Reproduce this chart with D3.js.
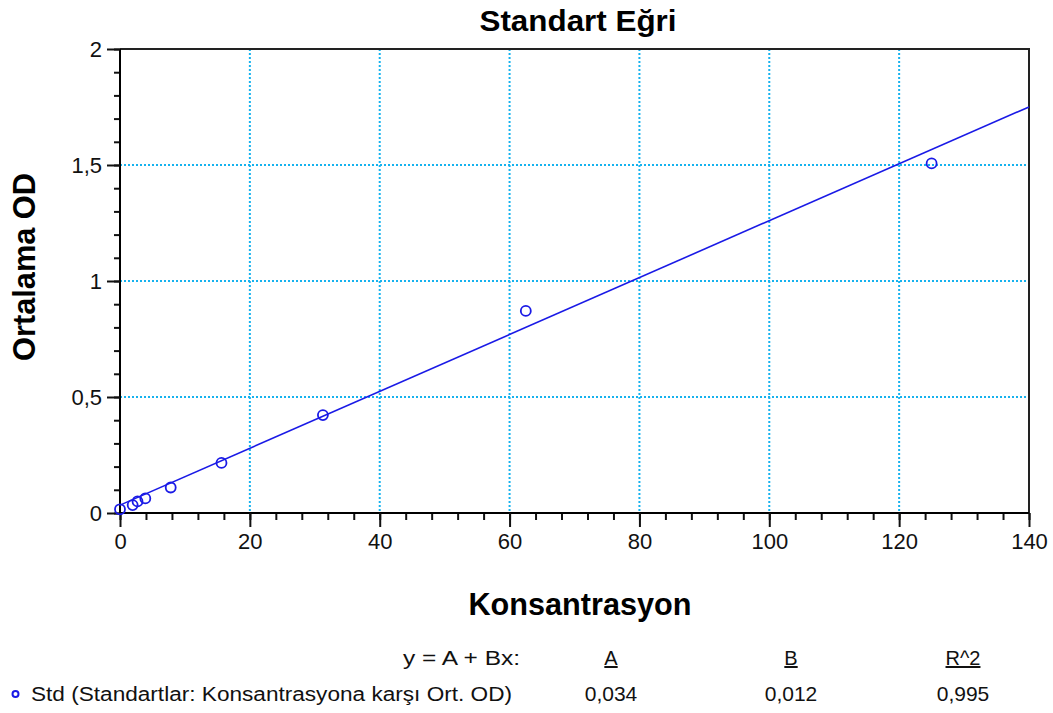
<!DOCTYPE html>
<html><head><meta charset="utf-8">
<script src="https://cdn.jsdelivr.net/npm/d3@7/dist/d3.min.js"></script>
<style>body{margin:0;background:#fff}svg{display:block;font-family:"Liberation Sans",Arial,sans-serif}</style>
</head><body>
<svg id="c" width="1053" height="713"></svg>
<script>
const concentrations = [0, 1.95, 2.7, 3.9, 7.81, 15.63, 31.25, 62.5, 125];
const meanOD = [0.016, 0.034, 0.05, 0.063, 0.11, 0.216, 0.422, 0.871, 1.507];
const xTicks = [0, 20, 40, 60, 80, 100, 120, 140];
const yTicks = [0, 0.5, 1, 1.5, 2];
const fitA = 0.034, fitB = 0.01226;
const legendHeaders = ["A", "B", "R^2"];
const legendValues = ["0,034", "0,012", "0,995"];

const svg = d3.select("#c");
const L = 120, R = 1029, T = 49, B = 513;
const x = d3.scaleLinear().domain([0, 140]).range([L, R]);
const y = d3.scaleLinear().domain([0, 2]).range([B, T]);
const fmt = d => String(d).replace(".", ",");
const grid = "#16b2ee";

// gridlines
svg.append("g").selectAll("line").data(xTicks.filter(d => d > 0 && d < 140)).join("line")
  .attr("x1", d => x(d)).attr("x2", d => x(d)).attr("y1", T).attr("y2", B)
  .attr("stroke", grid).attr("stroke-width", 2).attr("stroke-dasharray", "2,2");
svg.append("g").selectAll("line").data(yTicks.filter(d => d > 0 && d < 2)).join("line")
  .attr("x1", L).attr("x2", R).attr("y1", d => y(d)).attr("y2", d => y(d))
  .attr("stroke", grid).attr("stroke-width", 2).attr("stroke-dasharray", "2,2");

// frame top/right
svg.append("path").attr("d", `M${L},${T}H${R}V${B}`).attr("fill", "none")
  .attr("stroke", "#222").attr("stroke-width", 2);

// axes
const xAx = svg.append("g").attr("transform", `translate(0,${B})`)
  .call(d3.axisBottom(x).tickValues(d3.range(0, 141, 4)).tickSize(7).tickFormat(""));
xAx.select(".domain").remove();
const xMaj = svg.append("g").attr("transform", `translate(0,${B})`)
  .call(d3.axisBottom(x).tickValues(xTicks).tickSize(14).tickPadding(6).tickFormat(fmt));
xMaj.select(".domain").attr("stroke-width", 2).attr("d", `M${L},0H${R}`);
xMaj.selectAll("text").attr("font-size", 22).attr("fill", "#111")
  .attr("font-family", '"Liberation Sans",Arial,sans-serif');
const tickStyle = g => g.selectAll(".tick line").attr("stroke", "#111").attr("stroke-width", 2);
tickStyle(xAx); tickStyle(xMaj);

const yAx = svg.append("g").attr("transform", `translate(${L},0)`)
  .call(d3.axisLeft(y).tickValues(d3.range(0, 21).map(i => i / 10)).tickSize(6).tickFormat(""));
yAx.select(".domain").remove();
const yMaj = svg.append("g").attr("transform", `translate(${L},0)`)
  .call(d3.axisLeft(y).tickValues(yTicks).tickSize(13).tickPadding(5).tickFormat(fmt));
yMaj.select(".domain").attr("stroke-width", 2).attr("d", `M0,${T}V${B}`);
yMaj.selectAll("text").attr("font-size", 22).attr("fill", "#111")
  .attr("font-family", '"Liberation Sans",Arial,sans-serif');
tickStyle(yAx); tickStyle(yMaj);

// fit line
const fitX = [0, 140];
svg.append("path").datum(fitX)
  .attr("d", d3.line().x(d => x(d)).y(d => y(fitA + fitB * d)))
  .attr("stroke", "#1a1ae6").attr("stroke-width", 1.6).attr("fill", "none");

// points
svg.append("g").selectAll("circle").data(concentrations).join("circle")
  .attr("cx", d => x(d)).attr("cy", (d, i) => y(meanOD[i])).attr("r", 5)
  .attr("fill", "none").attr("stroke", "#1a1ae6").attr("stroke-width", 1.8);

// titles
svg.append("text").attr("x", 578).attr("y", 31).attr("text-anchor", "middle")
  .attr("font-size", 30).attr("font-weight", "bold").attr("textLength", 197)
  .attr("lengthAdjust", "spacingAndGlyphs").text("Standart Eğri");
svg.append("text").attr("x", 580).attr("y", 615).attr("text-anchor", "middle")
  .attr("font-size", 31).attr("font-weight", "bold").attr("textLength", 223)
  .attr("lengthAdjust", "spacingAndGlyphs").text("Konsantrasyon");
svg.append("text").attr("transform", "translate(35,267) rotate(-90)").attr("text-anchor", "middle")
  .attr("font-size", 31).attr("font-weight", "bold").attr("textLength", 188)
  .attr("lengthAdjust", "spacingAndGlyphs").text("Ortalama OD");

// legend
const colX = [611, 791, 963];
svg.append("text").attr("x", 520).attr("y", 665).attr("text-anchor", "end")
  .attr("font-size", 20).attr("textLength", 117).attr("lengthAdjust", "spacingAndGlyphs")
  .attr("fill", "#111").text("y = A + Bx:");
svg.append("g").selectAll("text").data(legendHeaders).join("text")
  .attr("x", (d, i) => colX[i]).attr("y", 665).attr("text-anchor", "middle")
  .attr("font-size", 20).attr("fill", "#111").attr("text-decoration", "underline").text(d => d);
svg.append("g").selectAll("text").data(legendValues).join("text")
  .attr("x", (d, i) => colX[i]).attr("y", 701).attr("text-anchor", "middle")
  .attr("font-size", 21).attr("fill", "#111").text(d => d);
svg.append("circle").attr("cx", 15.5).attr("cy", 694).attr("r", 3)
  .attr("fill", "none").attr("stroke", "#1a1ae6").attr("stroke-width", 2);
svg.append("text").attr("x", 31).attr("y", 701).attr("font-size", 20)
  .attr("textLength", 481).attr("lengthAdjust", "spacingAndGlyphs").attr("fill", "#111")
  .text("Std (Standartlar:  Konsantrasyona  karşı Ort. OD)");
</script>
</body></html>
